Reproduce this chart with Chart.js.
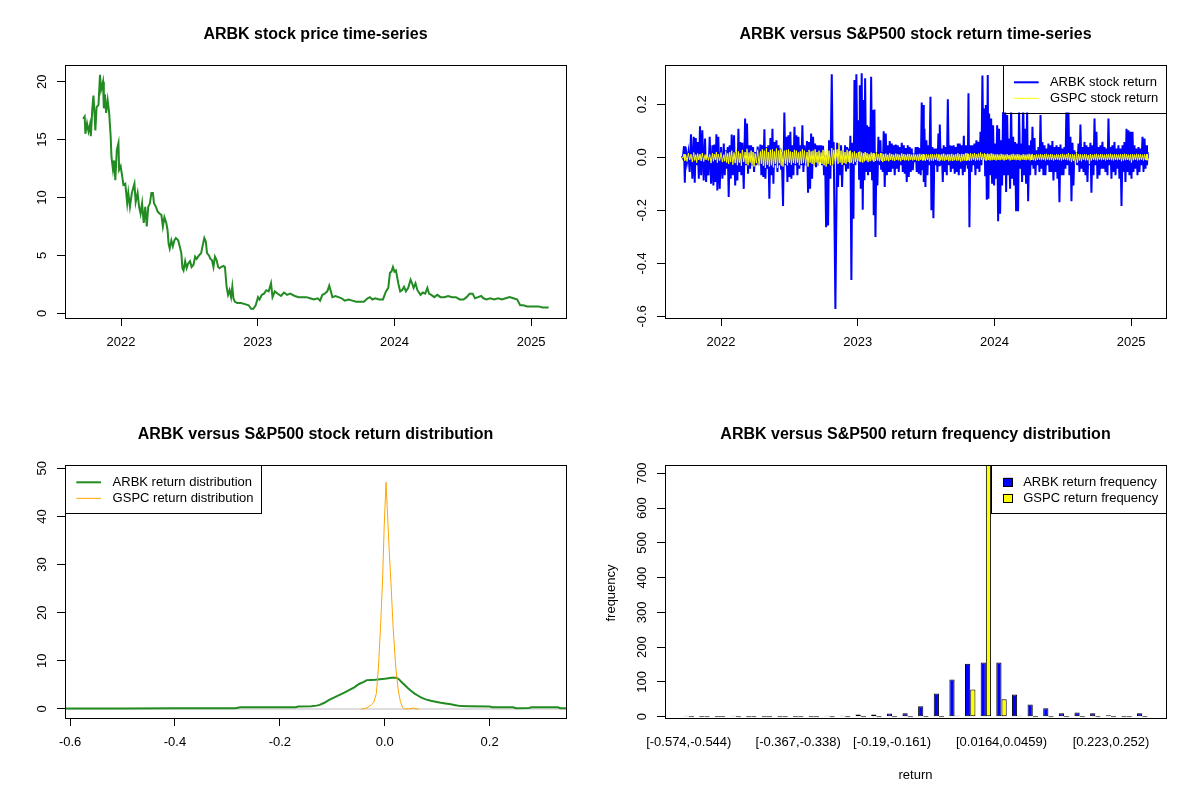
<!DOCTYPE html>
<html><head><meta charset="utf-8">
<script src="https://cdn.jsdelivr.net/npm/chart.js@4.4.1/dist/chart.umd.min.js"></script>
<style>
html,body{margin:0;padding:0;background:#fff;}
#wrap{position:relative;width:1200px;height:800px;background:#fff;overflow:hidden;}
canvas{position:absolute;}
</style></head><body>
<div id="wrap">
<canvas id="c1" width="600" height="400" style="left:0;top:0;width:600px;height:400px"></canvas>
<canvas id="c2" width="600" height="400" style="left:600px;top:0;width:600px;height:400px"></canvas>
<canvas id="c3" width="600" height="400" style="left:0;top:400px;width:600px;height:400px"></canvas>
<canvas id="c4" width="600" height="400" style="left:600px;top:400px;width:600px;height:400px"></canvas>
</div>
<script>
// ---------------- DATA ----------------
const yearTicks = [2022, 2023, 2024, 2025];
const priceTicks = [0, 5, 10, 15, 20];
const returnTicks = [-0.6, -0.4, -0.2, 0, 0.2];
const densXTicks = [-0.6, -0.4, -0.2, 0, 0.2];
const densYTicks = [0, 10, 20, 30, 40, 50];
const freqTicks = [0, 100, 200, 300, 400, 500, 600, 700];

// ARBK price (decimal year, USD)
const priceDates = [
2021.722,2021.734,2021.739,2021.751,2021.762,2021.773,2021.779,2021.790,2021.798,2021.807,
2021.812,2021.821,2021.835,2021.846,2021.854,2021.868,2021.874,2021.882,2021.891,2021.902,
2021.913,2021.924,2021.930,2021.941,2021.950,2021.958,2021.969,2021.981,2021.986,2021.997,
2022.009,2022.017,2022.031,2022.045,2022.053,2022.065,2022.079,2022.098,2022.107,2022.121,
2022.132,2022.143,2022.154,2022.166,2022.177,2022.188,2022.199,2022.211,2022.222,2022.233,
2022.241,2022.255,2022.267,2022.283,2022.295,2022.306,2022.317,2022.331,2022.340,2022.348,
2022.356,2022.368,2022.379,2022.390,2022.401,2022.418,2022.429,2022.441,2022.449,2022.457,
2022.469,2022.480,2022.491,2022.505,2022.516,2022.530,2022.542,2022.553,2022.570,2022.586,
2022.598,2022.609,2022.620,2022.629,2022.643,2022.654,2022.665,2022.676,2022.687,2022.699,
2022.710,2022.721,2022.732,2022.749,2022.760,2022.772,2022.783,2022.794,2022.805,2022.814,
2022.822,2022.833,2022.850,2022.878,2022.906,2022.934,2022.951,2022.968,2022.985,2023.002,
2023.013,2023.030,2023.046,2023.063,2023.080,2023.097,2023.108,2023.125,2023.147,2023.170,
2023.192,2023.215,2023.237,2023.271,2023.299,2023.327,2023.355,2023.383,2023.411,2023.439,
2023.456,2023.473,2023.490,2023.509,2023.523,2023.535,2023.546,2023.568,2023.591,2023.613,
2023.636,2023.664,2023.692,2023.720,2023.748,2023.776,2023.804,2023.821,2023.838,2023.860,
2023.888,2023.916,2023.938,2023.955,2023.967,2023.978,2023.989,2024.000,2024.011,2024.028,
2024.042,2024.056,2024.070,2024.084,2024.101,2024.118,2024.129,2024.140,2024.154,2024.168,
2024.191,2024.208,2024.225,2024.241,2024.253,2024.269,2024.292,2024.314,2024.337,2024.365,
2024.393,2024.421,2024.449,2024.477,2024.505,2024.528,2024.550,2024.572,2024.589,2024.612,
2024.634,2024.651,2024.673,2024.701,2024.730,2024.758,2024.786,2024.814,2024.842,2024.870,
2024.898,2024.920,2024.943,2024.971,2024.999,2025.027,2025.055,2025.083,2025.105,2025.128];
const priceValues = [
16.8,17.0,15.5,16.4,15.7,16.3,15.3,17.7,18.8,17.0,
15.8,17.8,18.0,20.6,19.3,20.0,17.7,18.9,17.3,18.4,
17.3,15.3,13.5,12.4,13.2,11.5,14.1,14.7,12.4,12.7,
11.8,11.1,11.2,9.5,10.4,9.2,10.4,11.2,9.6,10.4,
9.2,8.6,9.5,7.8,9.2,7.5,9.2,9.5,10.4,10.4,
9.5,9.2,8.8,8.6,8.5,7.5,8.3,7.8,7.2,6.0,
5.6,6.3,5.8,6.3,6.5,6.3,5.8,5.2,3.9,3.7,
4.5,3.9,4.3,4.5,4.0,4.2,4.9,4.7,5.0,5.2,
5.9,6.5,6.2,5.2,5.0,4.7,4.6,4.0,4.9,4.6,
4.0,3.9,4.0,4.1,4.0,2.3,1.6,2.0,1.4,2.3,
1.3,1.0,0.9,0.9,0.8,0.7,0.4,0.4,0.7,1.4,
1.2,1.6,1.7,2.0,1.9,2.6,1.4,1.9,1.7,1.5,
1.8,1.6,1.7,1.5,1.4,1.4,1.4,1.3,1.2,1.3,
1.1,1.6,1.7,1.9,2.4,1.9,1.4,1.5,1.4,1.3,
1.1,1.2,1.1,1.0,1.0,1.0,1.3,1.4,1.2,1.3,
1.2,1.2,1.9,2.2,3.5,3.6,4.0,3.6,3.7,2.6,
1.9,2.0,2.3,1.9,2.2,2.9,2.6,2.2,2.6,2.0,
1.6,1.8,1.7,2.2,1.7,1.6,1.4,1.6,1.4,1.4,
1.5,1.4,1.4,1.2,1.2,1.4,1.7,1.7,1.3,1.4,
1.5,1.3,1.2,1.3,1.2,1.3,1.2,1.3,1.4,1.3,
1.2,0.7,0.7,0.6,0.6,0.6,0.6,0.5,0.5,0.5];

// Daily returns: at each date the swing up (hi) then the swing down (lo)
const retDates = [
2021.712,2021.729,2021.741,2021.761,2021.780,2021.800,2021.815,2021.829,2021.846,2021.863,
2021.883,2021.898,2021.917,2021.937,2021.951,2021.966,2021.980,2022.000,2022.020,2022.034,
2022.049,2022.063,2022.078,2022.095,2022.112,2022.127,2022.141,2022.156,2022.176,2022.190,
2022.205,2022.220,2022.234,2022.249,2022.268,2022.288,2022.302,2022.317,2022.332,2022.346,
2022.361,2022.376,2022.390,2022.405,2022.420,2022.434,2022.444,2022.463,2022.478,2022.493,
2022.507,2022.522,2022.537,2022.551,2022.566,2022.580,2022.595,2022.610,2022.629,2022.644,
2022.659,2022.673,2022.688,2022.702,2022.717,2022.732,2022.746,2022.761,2022.776,2022.790,
2022.810,2022.824,
2022.849,2022.863,2022.878,2022.893,2022.907,2022.922,2022.937,2022.946,2022.961,2022.976,
2022.990,2023.005,2023.015,2023.029,2023.044,2023.054,2023.068,2023.083,2023.098,2023.112,
2023.122,2023.137,2023.151,2023.166,2023.176,2023.190,2023.205,2023.220,2023.234,2023.249,
2023.263,2023.278,2023.293,2023.307,2023.322,2023.337,2023.351,2023.366,2023.380,2023.395,
2023.410,2023.424,2023.439,2023.454,2023.468,2023.478,2023.488,2023.502,2023.517,2023.532,
2023.546,2023.561,2023.576,2023.590,2023.600,2023.615,2023.629,2023.644,2023.659,2023.673,
2023.688,2023.702,2023.717,2023.732,2023.746,2023.761,2023.776,2023.790,2023.800,2023.810,
2023.824,2023.839,2023.854,2023.868,2023.883,2023.898,2023.912,2023.927,2023.937,2023.951,
2023.961,2023.976,2023.990,2024.005,2024.020,2024.034,2024.049,2024.063,
2024.078,2024.093,2024.107,2024.122,2024.137,2024.151,2024.166,2024.180,2024.195,2024.210,
2024.224,2024.239,2024.254,2024.268,2024.278,2024.293,2024.307,2024.322,2024.337,2024.351,
2024.366,2024.380,2024.395,2024.410,2024.424,2024.439,2024.454,2024.468,2024.483,2024.498,
2024.512,2024.527,2024.541,2024.556,2024.571,2024.585,2024.600,2024.615,2024.629,2024.644,
2024.659,2024.673,2024.688,2024.702,2024.717,2024.732,2024.746,2024.761,2024.776,2024.790,
2024.805,2024.820,2024.834,2024.849,2024.863,2024.878,2024.893,2024.907,2024.922,2024.937,
2024.951,2024.966,2024.980,2024.995,2025.010,2025.024,2025.039,2025.054,2025.068,2025.083,
2025.098,2025.112,2025.120];
const arbkHi = [
0.005,0.042,0.039,0.018,0.087,0.077,0.073,0.058,0.117,0.102,
0.071,0.000,0.077,0.045,0.048,0.087,0.077,0.039,0.052,0.026,
0.039,0.045,0.086,0.083,0.020,0.108,0.058,0.055,0.146,0.127,
0.045,0.045,0.039,0.020,0.040,0.048,0.045,0.106,0.039,0.045,
0.073,0.108,0.058,0.064,0.045,0.033,0.018,0.169,0.077,0.083,
0.096,0.045,0.115,0.083,0.077,0.045,0.121,0.045,0.061,0.058,
0.090,0.077,0.052,0.045,0.045,0.045,0.043,0.008,0.008,0.064,
0.313,0.058,
0.055,0.052,0.045,0.026,0.045,0.039,0.033,0.081,0.055,0.291,
0.313,0.140,0.272,0.317,0.216,0.298,0.121,0.115,0.304,0.178,
0.180,0.020,0.077,0.064,0.020,0.098,0.090,0.045,0.061,0.052,
0.045,0.048,0.045,0.039,0.055,0.045,0.035,0.045,0.039,0.033,
0.014,0.039,0.039,0.035,0.207,0.197,0.108,0.064,0.045,0.228,
0.039,0.033,0.033,0.090,0.124,0.033,0.045,0.039,0.219,0.045,
0.043,0.045,0.039,0.052,0.052,0.045,0.081,0.045,0.045,0.241,
0.045,0.045,0.052,0.064,0.058,0.096,0.308,0.184,0.197,0.310,
0.165,0.146,0.121,0.052,0.121,0.108,0.064,0.171,
0.220,0.159,0.071,0.200,0.077,0.058,0.052,0.190,0.052,0.240,
0.108,0.180,0.045,0.064,0.115,0.073,0.026,0.039,0.159,0.058,
0.045,0.033,0.052,0.045,0.061,0.039,0.045,0.039,0.048,0.033,
0.039,0.210,0.190,0.077,0.055,0.026,0.020,0.052,0.124,0.039,
0.058,0.045,0.039,0.055,0.045,0.146,0.096,0.039,0.045,0.058,
0.039,0.033,0.146,0.039,0.045,0.058,0.033,0.045,0.033,0.045,
0.058,0.108,0.102,0.096,0.096,0.045,0.033,0.039,0.033,0.077,
0.071,0.045,0.020];
const arbkLo = [
-0.003,-0.096,-0.018,-0.055,-0.081,-0.096,-0.030,-0.081,-0.068,-0.087,
-0.093,-0.068,-0.100,-0.106,-0.093,-0.125,-0.119,-0.081,-0.068,-0.043,
-0.150,-0.081,-0.068,-0.106,-0.087,-0.055,-0.068,-0.119,-0.030,-0.062,
-0.043,-0.030,-0.055,-0.030,-0.030,-0.068,-0.074,-0.081,-0.043,-0.156,
-0.068,-0.100,-0.030,-0.055,-0.030,-0.043,-0.184,-0.030,-0.093,-0.074,
-0.081,-0.068,-0.030,-0.068,-0.043,-0.030,-0.055,-0.030,-0.134,-0.119,
-0.081,-0.030,-0.037,-0.030,-0.018,-0.030,-0.068,-0.264,-0.257,-0.081,
-0.030,-0.572,
-0.112,-0.068,-0.112,-0.030,-0.053,-0.043,-0.018,-0.463,-0.232,-0.030,
-0.018,-0.081,-0.119,-0.198,-0.087,-0.055,-0.068,-0.055,-0.087,-0.219,
-0.301,-0.106,-0.030,-0.043,-0.055,-0.112,-0.068,-0.055,-0.055,-0.043,
-0.068,-0.043,-0.055,-0.030,-0.055,-0.062,-0.093,-0.074,-0.055,-0.049,
-0.018,-0.055,-0.062,-0.068,-0.049,-0.093,-0.112,-0.068,-0.030,-0.200,
-0.230,-0.030,-0.055,-0.030,-0.030,-0.093,-0.055,-0.068,-0.030,-0.055,
-0.043,-0.062,-0.055,-0.068,-0.043,-0.068,-0.055,-0.030,-0.043,-0.264,
-0.055,-0.030,-0.068,-0.043,-0.055,-0.030,-0.005,-0.068,-0.160,-0.156,
-0.068,-0.100,-0.106,-0.081,-0.241,-0.213,-0.106,-0.068,
-0.131,-0.068,-0.119,-0.081,-0.106,-0.203,-0.203,-0.043,-0.093,-0.068,
-0.100,-0.166,-0.068,-0.030,-0.043,-0.068,-0.030,-0.055,-0.043,-0.068,
-0.068,-0.030,-0.055,-0.055,-0.087,-0.055,-0.081,-0.169,-0.068,-0.068,
-0.043,-0.030,-0.068,-0.166,-0.106,-0.028,-0.030,-0.055,-0.043,-0.055,
-0.068,-0.093,-0.030,-0.134,-0.068,-0.030,-0.081,-0.068,-0.043,-0.043,
-0.055,-0.068,-0.030,-0.081,-0.055,-0.068,-0.043,-0.081,-0.184,-0.055,
-0.093,-0.055,-0.068,-0.081,-0.055,-0.043,-0.068,-0.055,-0.030,-0.055,
-0.043,-0.030,-0.005];
const gspcHi = [
0.003,0.012,0.010,0.015,0.012,0.018,0.010,0.014,0.012,0.016,
0.010,0.013,0.011,0.015,0.012,0.020,0.012,0.018,0.010,0.022,
0.015,0.020,0.025,0.018,0.030,0.022,0.015,0.028,0.020,0.032,
0.018,0.025,0.020,0.015,0.028,0.022,0.030,0.025,0.035,0.020,
0.028,0.030,0.022,0.033,0.025,0.030,0.020,0.025,0.028,0.030,
0.022,0.020,0.028,0.025,0.018,0.022,0.030,0.025,0.020,0.028,
0.022,0.025,0.030,0.020,0.025,0.018,0.028,0.022,0.030,0.025,
0.035,0.028,
0.030,0.055,0.025,0.030,0.020,0.028,0.022,0.025,0.018,0.022,
0.015,0.020,0.022,0.018,0.015,0.020,0.016,0.012,0.018,0.015,
0.014,0.018,0.012,0.016,0.015,0.012,0.014,0.010,0.015,0.012,
0.010,0.014,0.012,0.010,0.015,0.012,0.010,0.013,0.012,0.010,
0.012,0.010,0.011,0.013,0.010,0.012,0.009,0.012,0.010,0.011,
0.012,0.010,0.013,0.011,0.010,0.012,0.014,0.010,0.012,0.011,
0.013,0.010,0.012,0.015,0.011,0.013,0.012,0.016,0.014,0.012,
0.015,0.013,0.016,0.012,0.014,0.018,0.013,0.015,0.012,0.014,
0.012,0.015,0.013,0.011,0.012,0.010,0.013,0.011,
0.010,0.012,0.009,0.011,0.013,0.010,0.012,0.011,0.009,0.012,
0.010,0.011,0.013,0.010,0.012,0.009,0.011,0.010,0.012,0.010,
0.011,0.013,0.010,0.012,0.011,0.009,0.012,0.010,0.011,0.013,
0.010,0.012,0.015,0.011,0.012,0.010,0.018,0.012,0.011,0.010,
0.012,0.011,0.009,0.012,0.010,0.011,0.013,0.010,0.012,0.011,
0.010,0.012,0.011,0.013,0.010,0.012,0.011,0.010,0.012,0.011,
0.013,0.012,0.010,0.011,0.012,0.010,0.013,0.011,0.012,0.010,
0.011,0.012,0.010];
const gspcLo = [
-0.004,-0.012,-0.016,-0.010,-0.018,-0.012,-0.020,-0.010,-0.014,-0.016,
-0.010,-0.012,-0.022,-0.015,-0.010,-0.020,-0.013,-0.018,-0.015,-0.020,
-0.025,-0.018,-0.028,-0.022,-0.030,-0.020,-0.032,-0.018,-0.025,-0.030,
-0.020,-0.028,-0.035,-0.022,-0.030,-0.025,-0.032,-0.040,-0.028,-0.035,
-0.030,-0.038,-0.025,-0.040,-0.022,-0.030,-0.035,-0.025,-0.030,-0.020,
-0.028,-0.022,-0.025,-0.020,-0.030,-0.025,-0.022,-0.028,-0.035,-0.020,
-0.025,-0.030,-0.020,-0.028,-0.022,-0.025,-0.030,-0.035,-0.025,-0.030,
-0.028,-0.025,
-0.025,-0.020,-0.028,-0.022,-0.025,-0.018,-0.022,-0.020,-0.025,-0.018,
-0.020,-0.015,-0.018,-0.020,-0.015,-0.012,-0.018,-0.015,-0.012,-0.016,
-0.014,-0.012,-0.015,-0.012,-0.018,-0.014,-0.012,-0.015,-0.010,-0.012,
-0.014,-0.010,-0.012,-0.015,-0.010,-0.012,-0.011,-0.013,-0.010,-0.012,
-0.010,-0.012,-0.014,-0.010,-0.012,-0.011,-0.013,-0.010,-0.015,-0.012,
-0.013,-0.010,-0.012,-0.014,-0.011,-0.012,-0.013,-0.010,-0.015,-0.012,
-0.014,-0.011,-0.013,-0.012,-0.016,-0.013,-0.012,-0.014,-0.011,-0.013,
-0.012,-0.010,-0.013,-0.011,-0.012,-0.010,-0.013,-0.011,-0.012,-0.010,
-0.012,-0.011,-0.010,-0.012,-0.010,-0.011,-0.009,-0.012,
-0.010,-0.008,-0.012,-0.010,-0.009,-0.011,-0.010,-0.012,-0.009,-0.010,
-0.011,-0.009,-0.012,-0.010,-0.011,-0.013,-0.010,-0.009,-0.011,-0.010,
-0.012,-0.009,-0.011,-0.010,-0.012,-0.010,-0.009,-0.011,-0.012,-0.010,
-0.009,-0.011,-0.012,-0.018,-0.014,-0.030,-0.020,-0.012,-0.015,-0.010,
-0.012,-0.011,-0.025,-0.012,-0.010,-0.011,-0.012,-0.009,-0.011,-0.010,
-0.012,-0.010,-0.009,-0.011,-0.012,-0.010,-0.011,-0.009,-0.015,-0.012,
-0.011,-0.010,-0.012,-0.020,-0.011,-0.010,-0.012,-0.011,-0.010,-0.012,
-0.010,-0.011,-0.009];

// Kernel densities of returns
const arbkDensX = [-0.61,-0.5,-0.4,-0.3,-0.285,-0.275,-0.2,-0.17,-0.165,-0.14,
-0.13,-0.124,-0.115,-0.106,-0.096,-0.087,-0.077,-0.068,-0.058,-0.049,
-0.041,-0.034,-0.026,-0.018,-0.009,0.0,0.007,0.013,0.0225,0.028,
0.032,0.038,0.0445,0.05,0.057,0.063,0.069,0.078,0.088,0.097,
0.107,0.116,0.126,0.135,0.145,0.16,0.2,0.205,0.245,0.25,
0.275,0.28,0.33,0.335,0.35];
const arbkDensY = [0.12,0.12,0.13,0.15,0.16,0.34,0.35,0.36,0.5,0.55,
0.7,0.85,1.3,1.9,2.4,2.9,3.4,3.9,4.5,5.2,
5.6,6.0,6.05,6.1,6.2,6.3,6.4,6.5,6.5,6.1,
5.6,5.0,4.3,3.8,3.2,2.8,2.4,2.0,1.7,1.5,
1.3,1.15,1.0,0.8,0.6,0.55,0.5,0.36,0.35,0.15,
0.2,0.35,0.35,0.15,0.14];
const gspcDensX = [-0.045,-0.04,-0.035,-0.03,-0.025,-0.021,-0.016,-0.012,-0.008,-0.004,
-0.001,0.0025,0.006,0.009,0.012,0.016,0.021,0.026,0.03,0.034,
0.037,0.045,0.052,0.056,0.06,0.065];
const gspcDensY = [0,0.05,0.2,0.5,0.9,1.4,3.2,8.5,17,27,
38,47.1,39,32,26,17,8.7,3.8,1.5,0.4,
0.05,0,0.15,0.2,0.05,0];

// Return frequency table (30 bins)
const binLabels = ["[-0.574,-0.544)","[-0.544,-0.515)","[-0.515,-0.485)","[-0.485,-0.456)","[-0.456,-0.426)",
"[-0.426,-0.397)","[-0.397,-0.367)","[-0.367,-0.338)","[-0.338,-0.308)","[-0.308,-0.279)",
"[-0.279,-0.249)","[-0.249,-0.22)","[-0.22,-0.19)","[-0.19,-0.161)","[-0.161,-0.131)",
"[-0.131,-0.102)","[-0.102,-0.0721)","[-0.0721,-0.0426)","[-0.0426,-0.0131)","[-0.0131,0.0164)",
"[0.0164,0.0459)","[0.0459,0.0754)","[0.0754,0.105)","[0.105,0.134)","[0.134,0.164)",
"[0.164,0.193)","[0.193,0.223)","[0.223,0.252)","[0.252,0.282)","[0.282,0.311]"];
const shownBins = [1, 8, 14, 21, 28];
const arbkFreq = [2,0,0,2,0,0,0,0,0,1,3,6,6,9,10,30,67,107,152,156,156,64,35,24,10,12,10,4,0,10];
const gspcFreq = [0,0,0,0,0,0,0,0,0,0,0,0,0,0,0,0,0,3,78,724,50,3,0,0,0,0,0,0,0,0];

// ---------------- RENDERING ----------------
const FONT = '"Liberation Sans", Arial, Helvetica, sans-serif';
Chart.defaults.font.family = FONT;
Chart.defaults.font.size = 13;
Chart.defaults.color = '#000';
Chart.defaults.animation = false;

function zigzag(dates, hi, lo) {
  const pts = [];
  for (let i = 0; i < dates.length; i++) {
    const next = i + 1 < dates.length ? dates[i + 1] : dates[i] + (dates[i] - dates[i - 1]);
    pts.push({x: dates[i], y: hi[i]}, {x: (dates[i] + next) / 2, y: lo[i]});
  }
  return pts;
}
const pairs = (xs, ys) => xs.map((x, i) => ({x, y: ys[i]}));

function xScale(min, max, ticks, fmt, drawTicks, padding) {
  return {
    type: 'linear', min, max, offset: false,
    afterBuildTicks: s => { s.ticks = ticks.map(v => ({value: v})); },
    afterFit: s => { s.height = 82; },
    ticks: {autoSkip: false, maxRotation: 0, minRotation: 0, padding, color: '#000',
            font: {size: 13, family: FONT}, callback: v => fmt(v)},
    grid: {display: true, drawOnChartArea: false, drawTicks, tickLength: 8, color: '#000', lineWidth: 1, offset: false},
    border: {display: false}
  };
}
function yScale(min, max, ticks) {
  return {
    type: 'linear', min, max,
    afterBuildTicks: s => { s.ticks = ticks.map(v => ({value: v})); },
    afterFit: s => { s.width = 65; },
    ticks: {display: false},
    grid: {display: true, drawOnChartArea: false, drawTicks: true, tickLength: 8, color: '#000', lineWidth: 1},
    border: {display: false}
  };
}

function decor(cfg) {
  return {
    id: 'decor',
    afterDraw(chart) {
      const ctx = chart.ctx, a = chart.chartArea;
      ctx.save();
      // legend
      if (cfg.legend) {
        const L = cfg.legend;
        ctx.font = '13px ' + FONT;
        const tw = Math.max(...L.items.map(it => ctx.measureText(it.label).width));
        const w = L.textOff + tw + 7.7, h = 47.5;
        const x0 = L.side === 'right' ? a.right - w : a.left;
        const y0 = a.top;
        ctx.fillStyle = '#fff';
        ctx.fillRect(x0, y0, w, h);
        ctx.strokeStyle = '#000'; ctx.lineWidth = 1;
        ctx.strokeRect(Math.round(x0) + 0.5, Math.round(y0) + 0.5, Math.round(w), Math.round(h));
        L.items.forEach((it, i) => {
          const yy = y0 + 17.3 + i * 16;
          if (it.type === 'line') {
            ctx.strokeStyle = it.color; ctx.lineWidth = it.lw;
            ctx.beginPath(); ctx.moveTo(x0 + 11.3, yy); ctx.lineTo(x0 + 36, yy); ctx.stroke();
          } else {
            ctx.fillStyle = it.color;
            ctx.fillRect(x0 + 12.5, yy - 4.5, 9.5, 8.5);
            ctx.strokeStyle = '#000'; ctx.lineWidth = 1;
            ctx.strokeRect(Math.round(x0 + 12.5) + 0.5, Math.round(yy - 4.5) + 0.5, 9, 8);
          }
          ctx.fillStyle = '#000'; ctx.textAlign = 'left'; ctx.textBaseline = 'middle';
          ctx.fillText(it.label, x0 + L.textOff, yy);
        });
      }
      // plot box
      ctx.strokeStyle = '#000'; ctx.lineWidth = 1;
      const l = Math.round(a.left), t = Math.round(a.top), r = Math.round(a.right), b = Math.round(a.bottom);
      ctx.strokeRect(l + 0.5, t + 0.5, r - l, b - t);
      // title
      ctx.fillStyle = '#000';
      ctx.textAlign = 'center'; ctx.textBaseline = 'middle';
      ctx.font = 'bold 16px ' + FONT;
      ctx.fillText(cfg.title, (a.left + a.right) / 2, 35);
      // rotated y tick labels (R style)
      const ys = chart.scales.y;
      ctx.font = '13px ' + FONT;
      ys.ticks.forEach(tk => {
        const py = ys.getPixelForValue(tk.value);
        ctx.save(); ctx.translate(42.3, py); ctx.rotate(-Math.PI / 2);
        ctx.fillText(cfg.yFmt(tk.value), 0, 0);
        ctx.restore();
      });
      // axis titles
      if (cfg.xTitle) ctx.fillText(cfg.xTitle, (a.left + a.right) / 2, 375);
      if (cfg.yTitle) {
        ctx.save(); ctx.translate(11.5, (a.top + a.bottom) / 2 + 1.5); ctx.rotate(-Math.PI / 2);
        ctx.fillText(cfg.yTitle, 0, 0); ctx.restore();
      }
      ctx.restore();
    }
  };
}

const baseOpts = (scales) => ({
  responsive: false, animation: false, devicePixelRatio: 1,
  layout: {padding: {top: 65, right: 34, left: 0, bottom: 0}},
  plugins: {legend: {display: false}, tooltip: {enabled: false}, title: {display: false}},
  scales
});
const lineDs = (data, color, width, order) => ({
  data, borderColor: color, borderWidth: width, pointRadius: 0, tension: 0, fill: false, order
});

// 1. price
new Chart(document.getElementById('c1'), {
  type: 'line',
  data: {datasets: [lineDs(pairs(priceDates, priceValues), '#228B22', 2, 0)]},
  options: baseOpts({
    x: xScale(2021.59, 2025.255, yearTicks, v => String(v), true, 9),
    y: yScale(-0.40, 21.44, priceTicks)
  }),
  plugins: [decor({title: 'ARBK stock price time-series', yFmt: v => String(v)})]
});

// 2. returns
new Chart(document.getElementById('c2'), {
  type: 'line',
  data: {datasets: [
    lineDs(zigzag(retDates, gspcHi, gspcLo), '#FFFF00', 1, 0),
    lineDs(zigzag(retDates, arbkHi, arbkLo), '#0000FF', 2, 1)
  ]},
  options: baseOpts({
    x: xScale(2021.59, 2025.255, yearTicks, v => String(v), true, 9),
    y: yScale(-0.606, 0.348, returnTicks)
  }),
  plugins: [decor({
    title: 'ARBK versus S&P500 stock return time-series', yFmt: v => v.toFixed(1),
    legend: {side: 'right', textOff: 47.3, items: [
      {label: 'ARBK stock return', color: '#0000FF', lw: 2, type: 'line'},
      {label: 'GSPC stock return', color: '#FFFF00', lw: 1, type: 'line'}]}
  })]
});

// 3. density
new Chart(document.getElementById('c3'), {
  type: 'line',
  data: {datasets: [
    lineDs(pairs(gspcDensX, gspcDensY), '#FFA500', 1, 0),
    lineDs(pairs(arbkDensX, arbkDensY), '#228B22', 2, 1),
    lineDs([{x: arbkDensX[0], y: 0}, {x: arbkDensX[arbkDensX.length - 1], y: 0}], '#BEBEBE', 1, 2)
  ]},
  options: baseOpts({
    x: xScale(-0.6097, 0.3457, densXTicks, v => v.toFixed(1), true, 9),
    y: yScale(-1.87, 50.69, densYTicks)
  }),
  plugins: [decor({
    title: 'ARBK versus S&P500 stock return distribution', yFmt: v => String(v),
    legend: {side: 'left', textOff: 47.6, items: [
      {label: 'ARBK return distribution', color: '#228B22', lw: 2, type: 'line'},
      {label: 'GSPC return distribution', color: '#FFA500', lw: 1, type: 'line'}]}
  })]
});

// 4. frequency histogram (grouped bars, R barplot layout: group k centred at 3k-1)
const groupPos = binLabels.map((_, i) => 3 * (i + 1) - 1);
const barDs = (vals, color) => ({
  data: groupPos.map((x, i) => ({x, y: vals[i]})),
  backgroundColor: color, borderColor: '#000', borderWidth: 1, borderSkipped: false,
  categoryPercentage: 2 / 3, barPercentage: 1, minBarLength: 1
});
new Chart(document.getElementById('c4'), {
  type: 'bar',
  data: {datasets: [barDs(arbkFreq, '#0000FF'), barDs(gspcFreq, '#FFFF00')]},
  options: baseOpts({
    x: xScale(-2.56, 93.56, shownBins.map(k => 3 * k - 1), v => binLabels[(v + 1) / 3 - 1], false, 17),
    y: yScale(-3.8, 724, freqTicks)
  }),
  plugins: [decor({
    title: 'ARBK versus S&P500 return frequency distribution', yFmt: v => String(v),
    xTitle: 'return', yTitle: 'frequency',
    legend: {side: 'right', textOff: 32.2, items: [
      {label: 'ARBK return frequency', color: '#0000FF', type: 'box'},
      {label: 'GSPC return frequency', color: '#FFFF00', type: 'box'}]}
  })]
});
</script>
</body></html>
